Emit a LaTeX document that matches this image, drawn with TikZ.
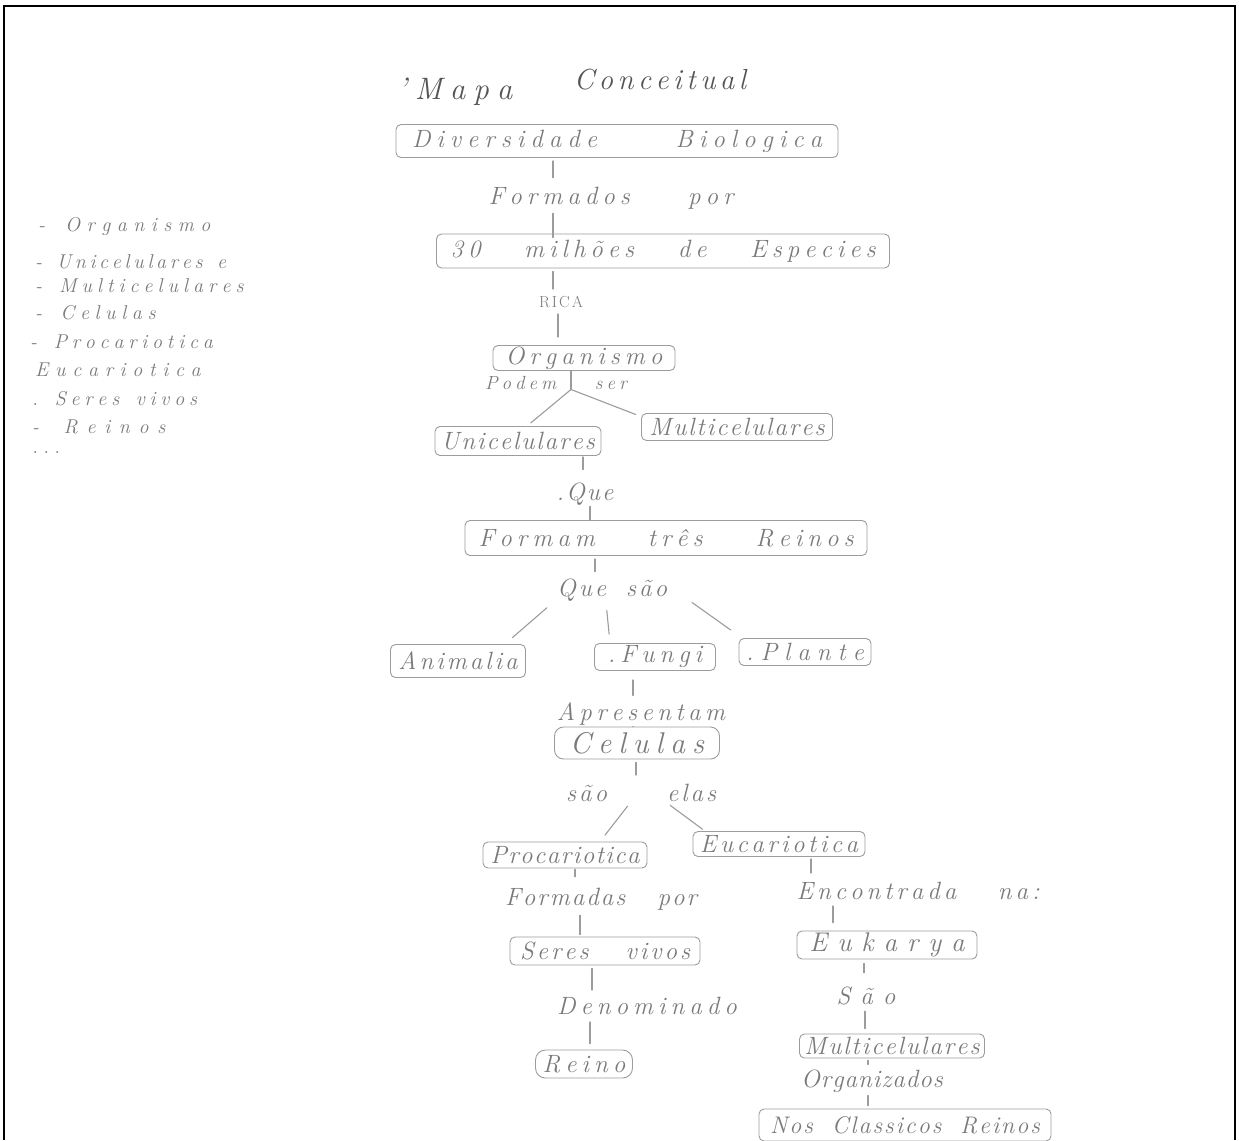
\documentclass[tikz,border=0pt]{standalone}
\usepackage{fontspec}
\definecolor{pencil}{HTML}{7A7A7A}
\definecolor{boxline}{HTML}{9C9C9C}
\definecolor{titlec}{HTML}{555555}
\newcommand{\hw}[1]{\fontsize{#1}{#1}\selectfont\itshape}
\newcommand{\spread}[2]{\makebox[#1pt][s]{#2}}
\makeatletter
\newcommand{\lsp}[2]{\@tfor\lsp@x:=#2\do{\lsp@x\kern#1pt}\kern-#1pt}
\makeatother
\begin{document}
\begin{tikzpicture}[x=1pt,y=-1pt,
  box/.style={draw=boxline, line width=0.9pt, rounded corners=5pt, inner sep=0pt, text=pencil, font=\hw{25}},
  lbl/.style={text=pencil, inner sep=1pt, font=\hw{25}},
  link/.style={draw=boxline, line width=1.1pt, line cap=round},
  item/.style={text=pencil, anchor=west, inner sep=0pt, font=\hw{20}},
  frameline/.style={line width=2.6pt, black}]
\useasboundingbox (0,0) rectangle (1239,1140);
\fill[white] (0,0) rectangle (1239,1140);
% frame
\draw[frameline] (4,1140) -- (4,6) -- (1235,6) -- (1235,1140);

% title
\node[text=titlec, font=\hw{31}] (t1) at (455,92) {\lsp{8}{'Mapa}};
\node[text=titlec, font=\hw{29}] (t2) at (660,80) {\lsp{4.5}{Conceitual}};

% main column
\node[box, minimum width=442pt, minimum height=33pt] (div) at (617,141) {\spread{410}{\lsp{6}{Diversidade}\hfill\lsp{6}{Biologica}}};
\node[lbl] (formados) at (611,198) {\spread{245}{\lsp{5}{Formados}\hfill\lsp{5}{por}}};
\node[box, minimum width=453pt, minimum height=34pt] (mil) at (663,251) {\spread{425}{\lsp{5}{30}\hfill\lsp{5}{milhões}\hfill\lsp{5}{de}\hfill\lsp{5}{Especies}}};
\node[text=pencil, inner sep=1pt, font=\fontsize{16}{16}\selectfont] (rica) at (561,302) {\lsp{2}{RICA}};
\node[box, minimum width=182pt, minimum height=25pt] (org) at (584,358) {\lsp{5}{Organismo}};
\node[lbl, font=\hw{19}] (podem) at (556,383) {\spread{142}{\lsp{4}{Podem}\hfill\lsp{4}{ser}}};
\node[box, minimum width=166pt, minimum height=29pt] (uni) at (518,441) {\lsp{2}{Unicelulares}};
\node[box, minimum width=191pt, minimum height=27pt] (mul) at (737,427) {\lsp{2}{Multicelulares}};
\node[lbl] (que1) at (585,494) {\lsp{2}{.Que}};
\node[box, minimum width=402pt, minimum height=35pt] (tres) at (666,538) {\spread{375}{\lsp{5}{Formam}\hfill\lsp{5}{três}\hfill\lsp{5}{Reinos}}};
\node[lbl] (quesao) at (612,590) {\spread{110}{\lsp{3}{Que}\hfill\lsp{3}{são}}};
\node[box, minimum width=135pt, minimum height=33pt] (ani) at (458,661) {\lsp{3}{Animalia}};
\node[box, minimum width=121pt, minimum height=27pt] (fun) at (655,657) {\lsp{5}{.Fungi}};
\node[box, minimum width=132pt, minimum height=27pt] (pla) at (805,652) {\lsp{7}{.Plante}};
\node[lbl] (apres) at (641,714) {\lsp{4.5}{Apresentam}};
\node[box, minimum width=165pt, minimum height=32pt, rounded corners=9pt, font=\hw{30}] (cel) at (637,743) {\lsp{7}{Celulas}};
\node[lbl] (saoelas) at (641,793) {\spread{150}{\lsp{3}{são}\hfill\lsp{3}{elas}}};
\node[box, minimum width=164pt, minimum height=26pt] (pro) at (565,855) {\lsp{1.5}{Procariotica}};
\node[box, minimum width=172pt, minimum height=25pt] (euc) at (779,844) {\lsp{3.5}{Eucariotica}};

% left branch
\node[lbl] (formadas) at (601,899) {\spread{192}{\lsp{2}{Formadas}\hfill\lsp{2}{por}}};
\node[box, minimum width=190pt, minimum height=28pt] (ser) at (605,951) {\spread{170}{\lsp{3}{Seres}\hfill\lsp{3}{vivos}}};
\node[lbl] (denom) at (647,1006) {\lsp{5}{Denominado}};
\node[box, minimum width=97pt, minimum height=28pt, rounded corners=10pt] (rei) at (584,1064) {\lsp{5}{Reino}};

% right branch
\node[lbl] (encon) at (918,891) {\spread{243}{\lsp{4}{Encontrada}\hfill\lsp{4}{na:}}};
\node[box, minimum width=180pt, minimum height=28pt, font=\hw{27}] (euk) at (887,945) {\lsp{10}{Eukarya}};
\node[lbl] (sao2) at (866,996) {\lsp{10}{São}};
\node[box, minimum width=185pt, minimum height=24pt] (mul2) at (892,1046) {\lsp{2}{Multicelulares}};
\node[lbl] (organ) at (872,1081) {\lsp{1}{Organizados}};
\node[box, minimum width=292pt, minimum height=32pt, font=\hw{24}] (nos) at (905,1125) {\spread{270}{\lsp{2}{Nos}\hfill\lsp{2}{Classicos}\hfill\lsp{2}{Reinos}}};

% connectors
\draw[link, shorten <=3pt, shorten >=8pt] (div.south -| 553,0) -- (formados.north -| 553,0);
\draw[link, shorten <=3pt, shorten >=-4pt] (formados.south -| 553,0) -- (mil.north -| 553,0);
\draw[link, shorten <=3pt, shorten >=6pt] (mil.south -| 553,0) -- (rica.north -| 553,0);
\draw[link, shorten <=5pt, shorten >=8pt] (rica.south -| 558,0) -- (org.north -| 558,0);
\draw[link] (org.south -| 571,0) -- (podem.base -| 571,0);
\draw[link, shorten >=5pt] (podem.base -| 571,0) -- (uni.north -| 527,0);
\draw[link, shorten >=-4pt] (podem.base -| 571,0) -- (mul.north -| 632,0);
\draw[link, shorten <=1pt, shorten >=12pt] (uni.south -| 583,0) -- (que1.north -| 583,0);
\draw[link] (que1.south -| 590,0) -- (tres.north -| 590,0);
\draw[link, shorten <=3pt, shorten >=6pt] (tres.south -| 595,0) -- (quesao.north -| 595,0);
\draw[link, shorten <=8pt, shorten >=10pt] (quesao.south -| 553,0) -- (ani.north -| 505,0);
\draw[link, shorten <=8pt, shorten >=9pt] (quesao.south -| 606,0) -- (fun.north -| 610,0);
\draw[link, shorten >=14pt] (quesao.south -| 692,0) -- (pla.north -| 742,0);
\draw[link, shorten <=9pt, shorten >=6pt] (fun.south -| 633,0) -- (apres.north -| 633,0);
\draw[link] (apres.south -| 633,0) -- (cel.north -| 633,0);
\draw[link, shorten <=3pt, shorten >=8pt] (cel.south -| 636,0) -- (saoelas.north -| 636,0);
\draw[link, shorten <=4pt, shorten >=8pt] (saoelas.south -| 630,0) -- (pro.north -| 600,0);
\draw[link, shorten <=4pt, shorten >=3pt] (saoelas.south -| 667,0) -- (euc.north -| 705,0);
\draw[link, shorten <=1pt, shorten >=10pt] (pro.south -| 575,0) -- (formadas.north -| 575,0);
\draw[link, shorten <=4pt, shorten >=2pt] (formadas.south -| 580,0) -- (ser.north -| 580,0);
\draw[link, shorten <=3pt, shorten >=6pt] (ser.south -| 592,0) -- (denom.north -| 592,0);
\draw[link, shorten <=6pt, shorten >=6pt] (denom.south -| 590,0) -- (rei.north -| 590,0);
\draw[link, shorten <=2pt, shorten >=8pt] (euc.south -| 811,0) -- (encon.north -| 811,0);
\draw[link, shorten <=5pt, shorten >=8pt] (encon.south -| 833,0) -- (euk.north -| 833,0);
\draw[link, shorten <=4pt, shorten >=13pt] (euk.south -| 864,0) -- (sao2.north -| 864,0);
\draw[link, shorten <=5pt, shorten >=5pt] (sao2.south -| 865,0) -- (mul2.north -| 865,0);
\draw[link, shorten <=2pt, shorten >=4pt] (mul2.south -| 868,0) -- (organ.north -| 868,0);
\draw[link, shorten <=2pt, shorten >=3pt] (organ.south -| 868,0) -- (nos.north -| 868,0);

% side list
\node[item] (l1) at (38,226) {\lsp{6.5}{-{~}Organismo}};
\node[item] (l2) at (35,262) {\lsp{3.7}{-{~}Unicelulares{~}e}};
\node[item] (l3) at (35,286) {\lsp{5}{-{~}Multicelulares}};
\node[item] (l4) at (35,313) {\lsp{5.6}{-{~}Celulas}};
\node[item] (l5) at (30,342) {\lsp{4.8}{-{~}Procariotica}};
\node[item] (l6) at (35,370) {\lsp{6.7}{Eucariotica}};
\node[item] (l7) at (32,399) {\lsp{4.8}{.{~}Seres{~}vivos}};
\node[item] (l8) at (32,427) {\lsp{8.7}{-{~}Reinos}};
\node[item] (l9) at (32,453) {\lsp{5}{...}};
\end{tikzpicture}
\end{document}
